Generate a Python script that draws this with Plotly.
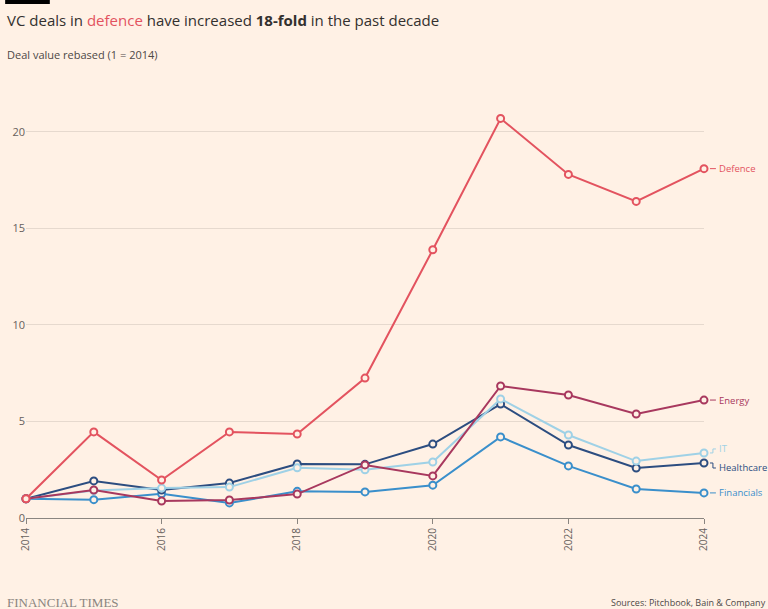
import plotly.graph_objects as go

years = [2014, 2015, 2016, 2017, 2018, 2019, 2020, 2021, 2022, 2023, 2024]
defence = [1.0, 4.46, 1.97, 4.46, 4.35, 7.25, 13.9, 20.7, 17.8, 16.4, 18.1]
energy = [1.0, 1.45, 0.88, 0.93, 1.24, 2.75, 2.18, 6.84, 6.37, 5.39, 6.11]
it = [1.0, 1.42, 1.55, 1.6, 2.6, 2.5, 2.9, 6.17, 4.3, 2.95, 3.37]
healthcare = [1.0, 1.92, 1.45, 1.81, 2.8, 2.78, 3.83, 5.9, 3.78, 2.59, 2.85]
financials = [1.0, 0.95, 1.25, 0.78, 1.38, 1.35, 1.7, 4.2, 2.7, 1.5, 1.3]

series_names = ["Financials", "Healthcare", "IT", "Energy", "Defence"]
series_values = [financials, healthcare, it, energy, defence]
series_colors = ["#3a8fcb", "#2c4d80", "#9fd1e6", "#a8385e", "#e3535f"]
label_shift = [0, -5, 4, 0, 0]

y_ticks = [0, 5, 10, 15, 20]
x_ticks = [2014, 2016, 2018, 2020, 2022, 2024]

BG = "#fff1e5"
FONT = "Open Sans, Lato, sans-serif"

W, H = 768, 609
L, R, T, B = 21, 64, 103, 91
pw, ph = W - L - R, H - T - B
Y_MAX = 21.5
px_per_unit = ph / Y_MAX

def px_x(p):  # pixel x -> paper x
    return (p - L) / pw

def px_y(p):  # pixel y (from top) -> paper y
    return (H - B - p) / ph

fig = go.Figure()
for name, vals, col in zip(series_names, series_values, series_colors):
    fig.add_trace(go.Scatter(
        x=years, y=vals, mode="lines+markers", name=name,
        line=dict(color=col, width=2),
        marker=dict(symbol="circle", size=7, color=BG, line=dict(color=col, width=2)),
        cliponaxis=False, showlegend=False,
    ))

shapes = []
annotations = []
for name, vals, col, sh in zip(series_names, series_values, series_colors, label_shift):
    yv = vals[-1]
    ylab = yv + sh / px_per_unit
    xa, xb, xc = 1 + 6 / pw, 1 + 9 / pw, 1 + 12 / pw
    if sh == 0:
        shapes.append(dict(type="line", xref="paper", yref="y", x0=xa, x1=xc, y0=yv, y1=yv,
                           line=dict(color=col, width=1)))
    else:
        shapes.append(dict(type="line", xref="paper", yref="y", x0=xa, x1=xb, y0=yv, y1=yv,
                           line=dict(color=col, width=1)))
        shapes.append(dict(type="line", xref="paper", yref="y", x0=xb, x1=xb, y0=yv, y1=ylab,
                           line=dict(color=col, width=1)))
        shapes.append(dict(type="line", xref="paper", yref="y", x0=xb, x1=xc, y0=ylab, y1=ylab,
                           line=dict(color=col, width=1)))
    annotations.append(dict(x=xc, y=ylab, xref="paper", yref="y", text=name, showarrow=False,
                            xanchor="left", yanchor="middle", xshift=1,
                            font=dict(family=FONT, size=9.5, color=col)))

annotations += [
    dict(x=px_x(0), y=px_y(20), xref="paper", yref="paper", xanchor="left", yanchor="middle",
         text="VC deals in <span style='color:#e3535f'>defence</span> have increased <b>18-fold</b> in the past decade",
         showarrow=False, font=dict(family=FONT, size=15, color="#33302e")),
    dict(x=px_x(0), y=px_y(55), xref="paper", yref="paper", xanchor="left", yanchor="middle",
         text="Deal value rebased (1 = 2014)", showarrow=False,
         font=dict(family=FONT, size=11, color="#4d4845")),
    dict(x=px_x(0), y=px_y(602), xref="paper", yref="paper", xanchor="left", yanchor="middle",
         text="FINANCIAL TIMES", showarrow=False,
         font=dict(family="Liberation Serif, serif", size=13, color="#8a8580")),
    dict(x=px_x(W), y=px_y(602), xref="paper", yref="paper", xanchor="right", yanchor="middle",
         text="Sources: Pitchbook, Bain & Company", showarrow=False,
         font=dict(family=FONT, size=9, color="#4d4845")),
]

shapes.append(dict(type="rect", xref="paper", yref="paper", x0=px_x(0), x1=px_x(45),
                   y0=px_y(4), y1=px_y(0), fillcolor="#000000", line=dict(width=0)))

fig.update_layout(
    width=W, height=H,
    margin=dict(l=L, r=R, t=T, b=B),
    paper_bgcolor=BG, plot_bgcolor=BG,
    font=dict(family=FONT, color="#66605c"),
    shapes=shapes, annotations=annotations,
    xaxis=dict(range=[2014, 2024], tickvals=x_ticks, ticktext=[str(t) for t in x_ticks],
               tickangle=-90, showgrid=False, zeroline=False,
               showline=True, linecolor="#8a8580", linewidth=1,
               ticks="outside", ticklen=5, tickcolor="#8a8580",
               tickfont=dict(family=FONT, size=10, color="#66605c")),
    yaxis=dict(range=[0, Y_MAX], tickvals=y_ticks, ticktext=[str(t) for t in y_ticks],
               showgrid=True, gridcolor="#e6d9ce", gridwidth=1, zeroline=False,
               ticks="", tickfont=dict(family=FONT, size=11, color="#66605c"),
               showline=False),
)

fig.write_html("out.html")
